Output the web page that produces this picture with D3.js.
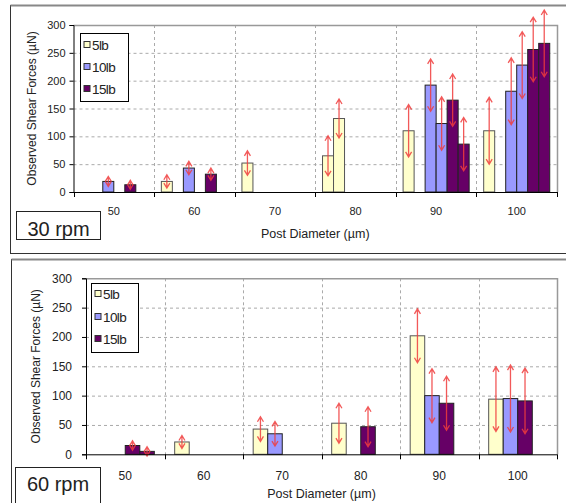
<!DOCTYPE html>
<html>
<head>
<meta charset="utf-8">
<script src="https://cdn.jsdelivr.net/npm/d3@7"></script>
<style>
body { margin: 0; background: #fff; }
text { font-family: "Liberation Sans", Arial, sans-serif; fill: #222; }
</style>
</head>
<body>
<div id="chart"></div>
<script>
// post diameters (um)
var categories = [50, 60, 70, 80, 90, 100];
var yTicks = [0, 50, 100, 150, 200, 250, 300];
var legendLabels = ["5lb", "10lb", "15lb"];
var colors = { "5lb": "#FFFFCC", "10lb": "#9999FF", "15lb": "#660066" };

// 30 rpm : two bars per load
var slots30 = ["5lb", "5lb", "10lb", "10lb", "15lb", "15lb"];
var force30 = [
	[null, 19, 52, 65, 110, 110],
	[null, null, null, 132, null, null],
	[19, 43, null, null, 192, 181],
	[null, null, null, null, 123, 228],
	[13, 32, null, null, 165, 256],
	[null, null, null, null, 86, 267]
];
var err30 = [
	[0, 12, 22, 36, 47, 60],
	[0, 0, 0, 35, 0, 0],
	[9, 12, 0, 0, 47, 60],
	[0, 0, 0, 0, 48, 60],
	[8, 11, 0, 0, 47, 58],
	[0, 0, 0, 0, 48, 60]
];

// 60 rpm
var slots60 = ["5lb", "10lb", "15lb", "15lb"];
var force60 = [
	[null, 21, 43, 53, 202, 94],
	[null, null, 35, null, 100, 95],
	[15, null, null, 47, 87, 91],
	[5, null, null, null, null, null]
];
var err60 = [
	[0, 11, 21, 34, 46, 55],
	[0, 0, 21, 0, 46, 57],
	[8, 0, 0, 34, 46, 56],
	[8, 0, 0, 0, 0, 0]
];

var svg = d3.select("#chart").append("svg")
	.attr("width", 566)
	.attr("height", 503);

function drawPanel(cfg) {
	var g = svg.append("g");

	// outer frame
	g.append("rect")
		.attr("x", cfg.frame[0]).attr("y", cfg.frame[1])
		.attr("width", cfg.frame[2]).attr("height", cfg.frame[3])
		.attr("fill", "#fff").attr("stroke", "#333");
	g.append("line")
		.attr("x1", cfg.frame[0]).attr("x2", 566)
		.attr("y1", cfg.frame[1]).attr("y2", cfg.frame[1])
		.attr("stroke", "#888").attr("stroke-width", 2);

	var x0 = d3.scaleBand().domain(categories).range([cfg.left, cfg.right]).padding(0);
	var x1 = d3.scaleBand().domain(d3.range(cfg.slots.length))
		.range([0, x0.bandwidth()]).paddingInner(0).paddingOuter(cfg.pad);
	var y = d3.scaleLinear().domain([0, 300]).range([cfg.bottom, cfg.top]);

	// grid
	g.selectAll(".hg").data(yTicks.slice(1, -1)).enter().append("line")
		.attr("x1", cfg.left).attr("x2", cfg.right)
		.attr("y1", function(d) { return y(d) + 0.5; })
		.attr("y2", function(d) { return y(d) + 0.5; })
		.attr("stroke", "#aaa").attr("stroke-dasharray", "3,3");
	g.selectAll(".vg").data(categories.slice(1)).enter().append("line")
		.attr("x1", function(d) { return Math.round(x0(d)) + 0.5; })
		.attr("x2", function(d) { return Math.round(x0(d)) + 0.5; })
		.attr("y1", cfg.top).attr("y2", cfg.bottom)
		.attr("stroke", "#aaa").attr("stroke-dasharray", "3,3");
	g.append("path")
		.attr("d", "M" + cfg.left + "," + (cfg.top + 0.5) + "H" + (cfg.right + 0.5) + "V" + cfg.bottom)
		.attr("fill", "none").attr("stroke", "#999").attr("stroke-width", 1.5);

	// bars
	cfg.force.forEach(function(vals, s) {
		g.selectAll(".bar" + s).data(categories).enter()
			.filter(function(d, i) { return vals[i] != null; })
			.append("rect")
			.attr("x", function(d) { return x0(d) + x1(s); })
			.attr("width", x1.bandwidth())
			.attr("y", function(d) { return y(vals[categories.indexOf(d)]); })
			.attr("height", function(d) { return cfg.bottom - y(vals[categories.indexOf(d)]); })
			.attr("fill", colors[cfg.slots[s]])
			.attr("stroke", cfg.slots[s] == "5lb" ? "#555" : "#222")
			.attr("stroke-width", 1);
	});

	// error arrows
	cfg.force.forEach(function(vals, s) {
		categories.forEach(function(c, i) {
			if (vals[i] == null) return;
			var e = cfg.err[s][i];
			var cx = x0(c) + x1(s) + x1.bandwidth() / 2;
			var yt = y(vals[i] + e), yb = y(vals[i] - e);
			g.append("path")
				.attr("d", "M" + cx + "," + yt + "V" + yb +
					"M" + (cx - 3) + "," + (yt + 5) + "L" + cx + "," + yt + "L" + (cx + 3) + "," + (yt + 5) +
					"M" + (cx - 3) + "," + (yb - 5) + "L" + cx + "," + yb + "L" + (cx + 3) + "," + (yb - 5))
				.attr("fill", "none")
				.attr("stroke", "#f03c3c")
				.attr("stroke-opacity", 0.85)
				.attr("stroke-width", 1.3);
		});
	});

	// axes
	var yAxis = d3.axisLeft(y).tickValues(yTicks).tickSize(4).tickPadding(cfg.yPad);
	var ya = g.append("g").attr("transform", "translate(" + cfg.left + ",0)").call(yAxis);
	ya.select(".domain").attr("stroke", "#000");
	ya.selectAll(".tick line").attr("stroke", "#000");
	ya.selectAll("text").style("font-size", cfg.fs + "px").attr("fill", "#222");

	var xa = g.append("g");
	xa.append("line").attr("x1", cfg.left).attr("x2", cfg.right)
		.attr("y1", cfg.bottom + 0.5).attr("y2", cfg.bottom + 0.5)
		.attr("stroke", "#000");
	xa.selectAll(".xt").data(categories.concat(["end"])).enter().append("line")
		.attr("x1", function(d) { return Math.round(d == "end" ? cfg.right : x0(d)) + 0.5; })
		.attr("x2", function(d) { return Math.round(d == "end" ? cfg.right : x0(d)) + 0.5; })
		.attr("y1", cfg.bottom).attr("y2", cfg.bottom + 5)
		.attr("stroke", "#000");
	xa.selectAll(".xl").data(categories).enter().append("text")
		.attr("x", function(d) { return x0(d) + x0.bandwidth() / 2; })
		.attr("y", cfg.tickY)
		.attr("text-anchor", "middle")
		.style("font-size", cfg.fs + "px")
		.text(function(d) { return d; });

	g.append("text")
		.attr("x", (cfg.left + cfg.right) / 2)
		.attr("y", cfg.titleY)
		.attr("text-anchor", "middle")
		.style("font-size", "12.5px")
		.text("Post Diameter (\u00b5m)");
	g.append("text")
		.attr("transform", "translate(" + cfg.yTitleX + "," + (cfg.top + cfg.bottom) / 2 + ") rotate(-90)")
		.attr("text-anchor", "middle")
		.attr("dy", "0.35em")
		.style("font-size", "12px")
		.text("Observed Shear Forces (\u00b5N)");

	// legend
	var lg = g.append("g");
	lg.append("rect")
		.attr("x", cfg.legend[0]).attr("y", cfg.legend[1])
		.attr("width", cfg.legend[2]).attr("height", cfg.legend[3])
		.attr("fill", "#fff").attr("stroke", "#000");
	legendLabels.forEach(function(l, i) {
		var cy = cfg.legendRows[i];
		lg.append("rect")
			.attr("x", cfg.legend[0] + 3.5).attr("y", cy - 3.5)
			.attr("width", 6).attr("height", 6)
			.attr("fill", colors[l]).attr("stroke", "#333");
		lg.append("text")
			.attr("x", cfg.legend[0] + 11.5)
			.attr("y", cy)
			.attr("dy", "0.36em")
			.style("font-size", "13.5px")
			.style("letter-spacing", "-0.6px")
			.attr("fill", "#111")
			.text(l);
	});

	// rpm label
	g.append("rect")
		.attr("x", cfg.box[0]).attr("y", cfg.box[1])
		.attr("width", cfg.box[2]).attr("height", cfg.box[3])
		.attr("fill", "#fff").attr("stroke", "#222");
	g.append("text")
		.attr("x", cfg.box[0] + cfg.box[2] / 2)
		.attr("y", cfg.boxBase)
		.attr("text-anchor", "middle")
		.style("font-size", "20px")
		.attr("fill", "#000")
		.text(cfg.label);
}

drawPanel({
	frame: [10.5, 5.5, 570, 248], left: 73.5, right: 557, top: 25, bottom: 192,
	slots: slots30, force: force30, err: err30, pad: 0.66,
	fs: 11, yPad: 4, tickY: 215, titleY: 238, yTitleX: 32,
	legend: [80.5, 33.5, 48, 68], legendRows: [45, 67, 89],
	box: [16.5, 211.5, 84, 28], boxBase: 236, label: "30 rpm"
});

drawPanel({
	frame: [11.5, 259.5, 570, 260], left: 86, right: 557, top: 278.3, bottom: 454.3,
	slots: slots60, force: force60, err: err60, pad: 0.7,
	fs: 12, yPad: 10, tickY: 480, titleY: 498, yTitleX: 36,
	legend: [91.5, 283.5, 47, 69], legendRows: [294, 317, 339],
	box: [15.5, 467.5, 85, 40], boxBase: 491, label: "60 rpm"
});
</script>
</body>
</html>
